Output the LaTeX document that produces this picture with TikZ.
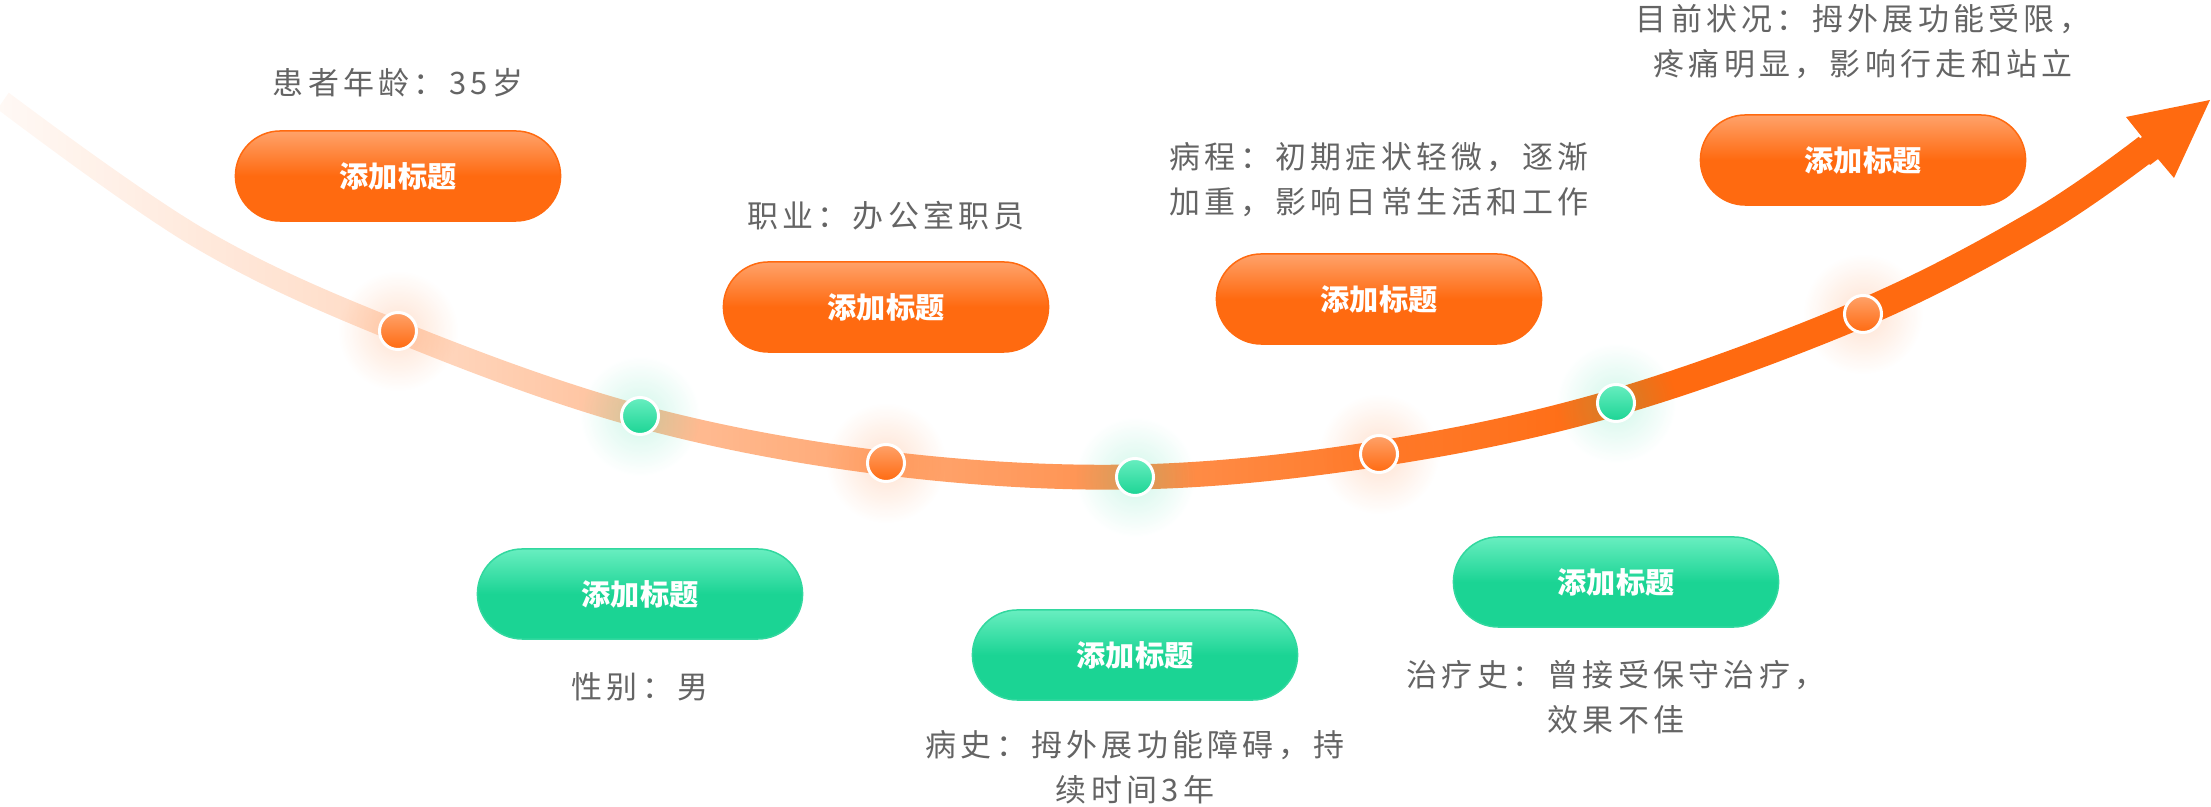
\documentclass[tikz,border=0pt]{standalone}
\usepackage{fontspec}
\usepackage{xcolor}
\usetikzlibrary{fadings}
\newfontfamily\cjk[LetterSpace=14]{Noto Sans CJK SC}
\newfontfamily\cjktitle{Noto Sans CJK SC}
\definecolor{morange}{RGB}{255,106,16}
\definecolor{morangelight}{RGB}{255,162,106}
\definecolor{mgreen}{RGB}{27,212,148}
\definecolor{mgreenlight}{RGB}{104,238,192}
\definecolor{mgrey}{RGB}{100,100,100}

\pgfdeclarehorizontalshading{bandshade}{100bp}{color(0bp)=(black!96); color(25bp)=(black!96); color(34bp)=(black!76); color(45bp)=(black!42); color(57bp)=(black!11); color(63bp)=(black!0); color(100bp)=(black!0)}
\pgfdeclarefading{bandfade}{\pgfuseshading{bandshade}}
\tikzfading[name=glowfade, inner color=transparent!80, outer color=transparent!100]

\begin{document}
\begin{tikzpicture}[x=0.01cm, y=-0.01cm]
  \tikzset{
    obtn/.style={draw=morange, line width=0.015cm, rounded corners=0.449cm, minimum width=3.25cm, minimum height=0.9cm,
      top color=morangelight, bottom color=morange, middle color=morange, text=white,
      font=\fontsize{8.3}{10}\selectfont\cjktitle\bfseries},
    gbtn/.style={obtn, draw=mgreen!90!white, top color=mgreenlight, bottom color=mgreen, middle color=mgreen},
    odot/.style={circle, draw=white, line width=0.03cm, minimum size=0.37cm, inner sep=0pt,
      top color=morangelight, bottom color=morange},
    gdot/.style={odot, top color=mgreenlight, bottom color=mgreen},
    info/.style={text=mgrey, align=center, font=\fontsize{8.8}{12.8}\selectfont\cjk}
  }
  \useasboundingbox (0,0) rectangle (2211,807);

  % curved band, fading in from the left
  \fill[morange, path fading=bandfade]
    plot[smooth, tension=0.6] coordinates {(9.7,92.8) (205.3,228.9) (402.1,320.8) (643.0,404.9) (887.5,451.1) (1134.8,464.5) (1377.0,441.2) (1612.2,390.0) (1857.5,301.1) (2034.0,210.9) (2141.6,136.8)}
    -- plot[smooth, tension=0.6] coordinates {(2158.4,159.2) (2048.0,235.1) (1868.5,326.9) (1619.8,416.0) (1381.0,466.8) (1135.2,489.5) (884.5,474.9) (637.0,427.1) (393.9,341.2) (194.7,247.1) (-1.7,109.2)}
    -- cycle;
  % arrow head
  \fill[morange] (2142,137) -- (2126,117) -- (2210,100) -- (2174,178) -- (2158,159) -- (2150,165) -- (2134,143) -- cycle;

  % glow round the points
  \foreach \p/\c in {{398,331}/morange, {640,416}/mgreen, {886,463}/morange, {1135,477}/mgreen,
                     {1379,454}/morange, {1616,403}/mgreen, {1863,314}/morange}
    \fill[\c, path fading=glowfade] (\p) circle (0.6cm);

  \node[odot] (d1) at (398,331) {}; % age
  \node[gdot] (d2) at (640,416) {}; % sex
  \node[odot] (d3) at (886,463) {}; % job
  \node[gdot] (d4) at (1135,477) {}; % history
  \node[odot] (d5) at (1379,454) {}; % course
  \node[gdot] (d6) at (1616,403) {}; % treatment
  \node[odot] (d7) at (1863,314) {}; % now

  \node[obtn] (b1) at (398,176) {添加标题};
  \node[gbtn] (b2) at (640,594) {添加标题};
  \node[obtn] (b3) at (886,307) {添加标题};
  \node[gbtn] (b4) at (1135,655) {添加标题};
  \node[obtn] (b5) at (1379,299) {添加标题};
  \node[gbtn] (b6) at (1616,582) {添加标题};
  \node[obtn] (b7) at (1863,160) {添加标题};

  \node[info] (t1) at (398,83) {患者年龄：35岁};
  \node[info] (t2) at (640,687) {性别：男};
  \node[info] (t3) at (886,216) {职业：办公室职员};
  \node[info] (t4) at (1135,767) {病史：拇外展功能障碍，持\\续时间3年};
  \node[info] (t5) at (1379,180) {病程：初期症状轻微，逐渐\\加重，影响日常生活和工作};
  \node[info] (t6) at (1616,697) {治疗史：曾接受保守治疗，\\效果不佳};
  \node[info] (t7) at (1863,42) {目前状况：拇外展功能受限，\\疼痛明显，影响行走和站立};
\end{tikzpicture}
\end{document}
